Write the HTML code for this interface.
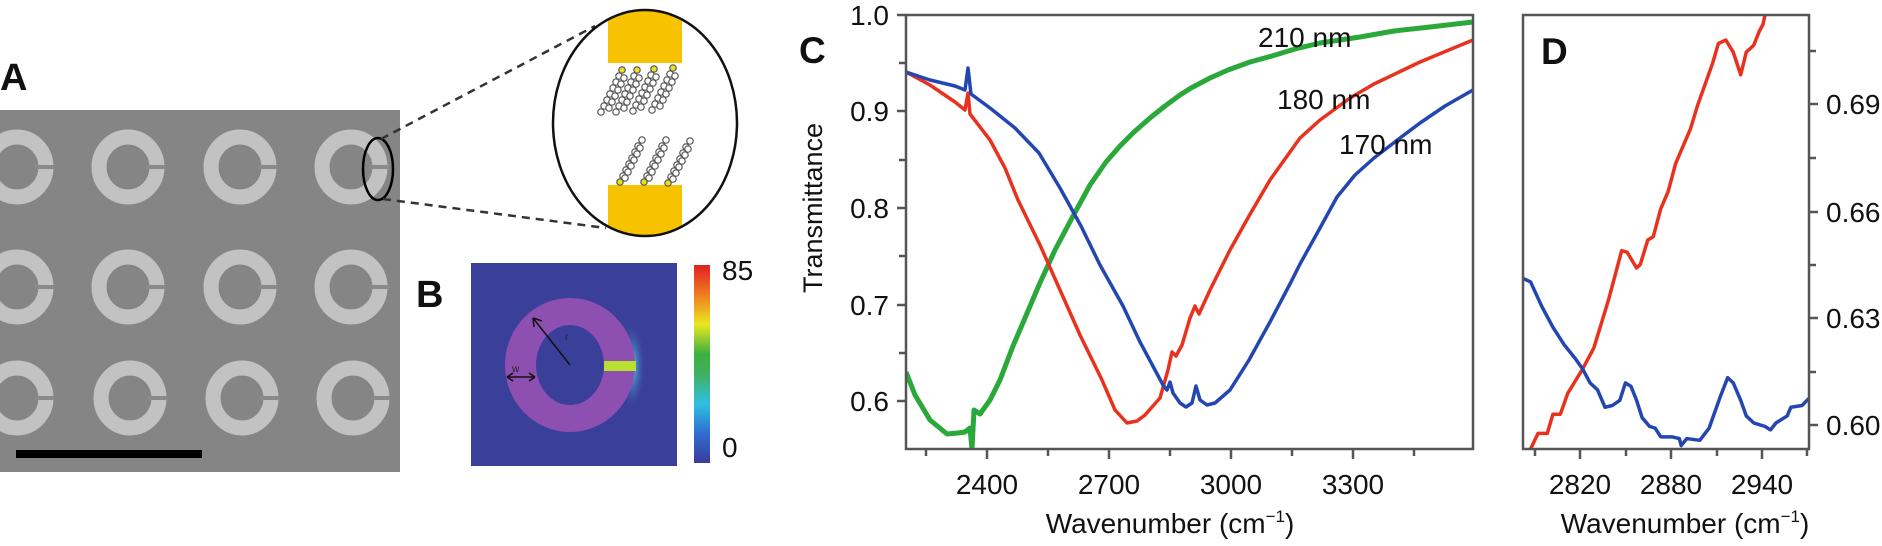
<!DOCTYPE html>
<html><head><meta charset="utf-8"><style>
html,body{margin:0;padding:0;background:#fff}
svg{display:block}
text{font-family:"Liberation Sans",Arial,sans-serif;fill:#111}
</style></head><body>
<svg width="1882" height="546" viewBox="0 0 1882 546" xmlns="http://www.w3.org/2000/svg">
<defs>
<clipPath id="cC"><rect x="906" y="15" width="567" height="434"/></clipPath>
<clipPath id="cD"><rect x="1523" y="15" width="286" height="434"/></clipPath>
<clipPath id="cE"><ellipse cx="645" cy="123" rx="92" ry="113"/></clipPath>
<clipPath id="cB"><rect x="471" y="263" width="206" height="203"/></clipPath>
<clipPath id="cA"><rect x="0" y="110" width="400" height="362"/></clipPath>
<linearGradient id="cbar" x1="0" y1="1" x2="0" y2="0">
<stop offset="0" stop-color="#3a3c9c"/><stop offset="0.15" stop-color="#2f6ed0"/><stop offset="0.3" stop-color="#2fc0e0"/><stop offset="0.45" stop-color="#40b060"/><stop offset="0.55" stop-color="#3cb040"/><stop offset="0.7" stop-color="#e8e820"/><stop offset="0.82" stop-color="#f09020"/><stop offset="1" stop-color="#e02020"/>
</linearGradient>
<radialGradient id="glow" cx="0.5" cy="0.5" r="0.5"><stop offset="0" stop-color="#5ad8f0"/><stop offset="1" stop-color="#3a3f9a" stop-opacity="0"/></radialGradient>
<g id="ring"><ellipse cx="0" cy="0" rx="29" ry="30" fill="none" stroke="#c2c2c2" stroke-width="15"/><rect x="18" y="-2" width="20" height="4" fill="#8a8a8a"/></g>
<g id="chd" fill="#fff" stroke="#555" stroke-width="1.2"><circle cx="0" cy="0" r="3.2" fill="#e8e020"/><circle cx="-3" cy="6" r="3.2"/><circle cx="-6" cy="12" r="3.2"/><circle cx="-9" cy="18" r="3.2"/><circle cx="-12" cy="24" r="3.2"/><circle cx="-15" cy="30" r="3.2"/><circle cx="-18" cy="36" r="3.2"/><circle cx="-21" cy="42" r="3.2"/><circle cx="2" cy="8" r="3.2"/><circle cx="-1" cy="14" r="3.2"/><circle cx="-4" cy="20" r="3.2"/><circle cx="-7" cy="26" r="3.2"/><circle cx="-10" cy="32" r="3.2"/><circle cx="-13" cy="38" r="3.2"/></g>
<g id="chu" fill="#fff" stroke="#555" stroke-width="1.2"><circle cx="0" cy="0" r="3.2" fill="#e8e020"/><circle cx="3" cy="-6" r="3.2"/><circle cx="6" cy="-12" r="3.2"/><circle cx="9" cy="-18" r="3.2"/><circle cx="12" cy="-24" r="3.2"/><circle cx="15" cy="-30" r="3.2"/><circle cx="18" cy="-36" r="3.2"/><circle cx="22" cy="-42" r="3.2"/><circle cx="5" cy="-4" r="3.2"/><circle cx="8" cy="-10" r="3.2"/><circle cx="11" cy="-16" r="3.2"/><circle cx="14" cy="-22" r="3.2"/><circle cx="17" cy="-28" r="3.2"/><circle cx="20" cy="-34" r="3.2"/></g>
</defs>

<!-- Panel A -->
<text x="0" y="90" font-size="38" font-weight="bold">A</text>
<rect x="0" y="110" width="400" height="362" fill="#858585"/>
<g clip-path="url(#cA)">
<use href="#ring" transform="translate(17,167)"/><use href="#ring" transform="translate(128,167)"/><use href="#ring" transform="translate(240,167)"/><use href="#ring" transform="translate(351,167)"/>
<use href="#ring" transform="translate(17,287)"/><use href="#ring" transform="translate(128,287)"/><use href="#ring" transform="translate(240,287)"/><use href="#ring" transform="translate(351,287)"/>
<use href="#ring" transform="translate(17,398)"/><use href="#ring" transform="translate(130,398)"/><use href="#ring" transform="translate(242,398)"/><use href="#ring" transform="translate(353,398)"/>
</g>
<rect x="16" y="450" width="186" height="8" fill="#000"/>
<ellipse cx="378" cy="169" rx="15" ry="31" fill="none" stroke="#000" stroke-width="2.5"/>
<g stroke="#333" stroke-width="2.5" stroke-dasharray="8,6" fill="none">
<line x1="381" y1="139" x2="595" y2="26"/><line x1="383" y1="199" x2="606" y2="228"/>
</g>
<g clip-path="url(#cE)">
<rect x="608" y="10" width="74" height="53" fill="#f7c300"/>
<rect x="608" y="185" width="74" height="52" fill="#f7c300"/>
<use href="#chd" transform="translate(622,70)"/><use href="#chd" transform="translate(637,70)"/><use href="#chd" transform="translate(654,69)"/><use href="#chd" transform="translate(673,68)"/>
<use href="#chu" transform="translate(620,182)"/><use href="#chu" transform="translate(644,182)"/><use href="#chu" transform="translate(668,183)"/>
</g>
<ellipse cx="645" cy="123" rx="92" ry="113" fill="none" stroke="#111" stroke-width="2.5"/>

<!-- Panel B -->
<text x="416" y="307" font-size="38" font-weight="bold">B</text>
<g clip-path="url(#cB)">
<rect x="471" y="263" width="206" height="203" fill="#3a3f9a"/>
<ellipse cx="632" cy="366" rx="14" ry="45" fill="url(#glow)"/>
<path fill-rule="evenodd" fill="#8e50b0" d="M505 365 a65 67 0 1 0 130 0 a65 67 0 1 0 -130 0 Z M536 365 a34 40 0 1 1 68 0 a34 40 0 1 1 -68 0 Z"/>
<rect x="604" y="361" width="32" height="10" fill="#b8e030"/>
<g stroke="#111" stroke-width="1.5" fill="none">
<line x1="570" y1="365" x2="533" y2="318"/><path d="M533 318 l9 3 m-9 -3 l1 9"/>
<line x1="507" y1="377" x2="535" y2="377"/><path d="M507 377 l6 -4 m-6 4 l6 4 M535 377 l-6 -4 m6 4 l-6 4"/>
</g>
<text x="512" y="372" font-size="10" style="fill:#222">w</text>
<text x="565" y="340" font-size="10" style="fill:#222">r</text>
</g>
<rect x="694" y="265" width="16" height="198" fill="url(#cbar)"/>
<text x="722" y="280" font-size="28">85</text>
<text x="722" y="457" font-size="28">0</text>

<!-- Panel C -->
<text x="799" y="63" font-size="37" font-weight="bold">C</text>
<text transform="translate(822,208) rotate(-90)" font-size="27" text-anchor="middle">Transmittance</text>
<g font-size="28" text-anchor="end">
<text x="889" y="25">1.0</text><text x="889" y="121">0.9</text><text x="889" y="218">0.8</text><text x="889" y="315">0.7</text><text x="889" y="411">0.6</text>
</g>
<g font-size="28" text-anchor="middle">
<text x="987" y="494">2400</text><text x="1109" y="494">2700</text><text x="1231" y="494">3000</text><text x="1353" y="494">3300</text>
<text x="1170" y="533">Wavenumber (cm<tspan font-size="17" dy="-11">−1</tspan><tspan dy="11">)</tspan></text>
</g>
<g clip-path="url(#cC)" fill="none" stroke-linejoin="round">
<polyline stroke="#2aa83a" stroke-width="5" points="906,372 915,395 930,420 947,434 958,433 965,432 970,428 972,449 974,410 980,414 990,400 1000,380 1013,346 1025,318 1039,285 1055,250 1072,218 1090,185 1106,162 1120,146 1134,132 1150,118 1165,106 1180,95 1191,88 1210,78 1228,70 1250,62 1272,56 1295,49 1320,43 1360,37 1394,31 1430,27 1473,22"/>
<polyline stroke="#e8321e" stroke-width="3.5" points="906,72 930,85 955,102 965,110 968,93 970,114 990,140 1005,168 1018,200 1040,245 1060,290 1080,335 1102,380 1115,410 1127,423 1137,421 1145,415 1160,398 1168,370 1172,352 1176,356 1182,345 1190,318 1195,306 1199,314 1210,290 1230,250 1249,216 1270,180 1290,152 1300,138 1320,120 1350,98 1374,84 1420,62 1473,40"/>
<polyline stroke="#2346b0" stroke-width="3.5" points="906,72 930,80 955,86 965,90 968,68 971,94 990,108 1015,128 1039,153 1060,188 1081,226 1100,265 1123,306 1140,342 1155,370 1163,385 1167,390 1170,382 1173,393 1180,403 1186,407 1192,403 1196,386 1200,400 1207,405 1215,403 1230,390 1249,360 1270,322 1291,282 1300,264 1320,228 1337,197 1355,175 1374,158 1400,138 1420,123 1445,106 1473,90"/>
</g>
<g stroke="#555" stroke-width="2.5" fill="none">
<rect x="906" y="15" width="567" height="434"/>
<path d="M897 15h9 M899 63h7 M897 111h9 M899 160h7 M897 208h9 M899 256h7 M897 305h9 M899 353h7 M897 401h9"/>
<path d="M926 449v7 M987 449v10 M1048 449v7 M1109 449v10 M1170 449v7 M1231 449v10 M1292 449v7 M1353 449v10 M1414 449v7"/>
</g>
<text x="1258" y="47" font-size="28">210 nm</text>
<text x="1277" y="109" font-size="28">180 nm</text>
<text x="1339" y="154" font-size="28">170 nm</text>

<!-- Panel D -->
<g clip-path="url(#cD)" fill="none" stroke-linejoin="round">
<g transform="translate(1300,0) scale(0.37189,0.34807)">
<polyline vector-effect="non-scaling-stroke" stroke="#e8321e" stroke-width="3.5" points="620,1290 640,1245 665,1245 680,1190 700,1190 720,1130 740,1095 760,1060 790,1000 810,930 830,860 850,780 865,720 880,725 905,770 915,760 935,690 950,680 970,600 990,550 1010,470 1030,420 1050,370 1070,300 1090,240 1110,180 1125,125 1145,115 1165,150 1185,215 1200,150 1220,130 1235,90 1245,70 1255,20"/>
<polyline vector-effect="non-scaling-stroke" stroke="#2346b0" stroke-width="3.5" points="600,800 620,810 650,880 680,940 710,990 740,1030 760,1060 780,1100 800,1120 820,1170 840,1165 860,1150 875,1100 890,1110 905,1150 920,1200 940,1225 955,1230 970,1255 1000,1255 1020,1260 1025,1280 1040,1260 1075,1265 1100,1230 1130,1140 1150,1085 1165,1100 1185,1150 1200,1195 1220,1215 1250,1225 1265,1235 1280,1215 1310,1195 1320,1170 1350,1165 1368,1145"/>
</g>
</g>
<g stroke="#555" stroke-width="2.5" fill="none">
<rect x="1523" y="15" width="286" height="434"/>
<path d="M1535 449v7 M1580 449v10 M1626 449v7 M1671 449v10 M1717 449v7 M1762 449v10 M1807 449v7"/>
<path d="M1809 51h7 M1809 104h9 M1809 158h7 M1809 212h9 M1809 265h7 M1809 318h9 M1809 372h7 M1809 425h9"/>
</g>
<text x="1541" y="64" font-size="37" font-weight="bold">D</text>
<g font-size="28">
<text x="1826" y="114">0.69</text><text x="1826" y="222">0.66</text><text x="1826" y="328">0.63</text><text x="1826" y="435">0.60</text>
</g>
<g font-size="28" text-anchor="middle">
<text x="1580" y="494">2820</text><text x="1671" y="494">2880</text><text x="1762" y="494">2940</text>
<text x="1685" y="533">Wavenumber (cm<tspan font-size="17" dy="-11">−1</tspan><tspan dy="11">)</tspan></text>
</g>
</svg>
</body></html>
